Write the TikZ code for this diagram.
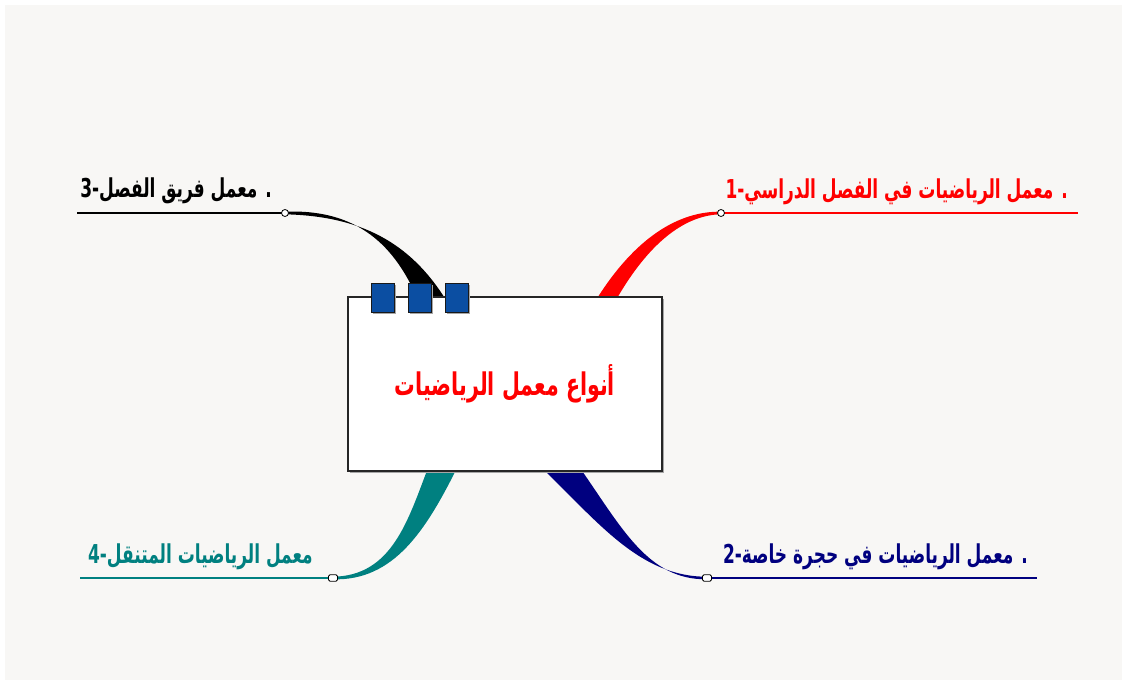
\documentclass[tikz,border=0pt]{standalone}
\usepackage{fontspec}
\usepackage{graphicx}
\usetikzlibrary{calc,shadows}
\TeXXeTstate=1
\newfontfamily\arabicfont[Script=Arabic]{DejaVu Sans}
\definecolor{bgc}{HTML}{F8F7F5}
\definecolor{cred}{HTML}{FF0000}
\definecolor{cnavy}{HTML}{00007F}
\definecolor{cteal}{HTML}{008080}
\definecolor{cblue}{HTML}{0B4EA2}
\newcommand{\lbltxt}[1]{\scalebox{0.85}[1.3]{\arabicfont\bfseries\fontsize{20}{22}\selectfont\beginR #1\endR}}
\begin{document}
\begin{tikzpicture}[x=1pt,y=-1pt,
  knot/.style={circle,draw=black,fill=white,line width=0.8pt,inner sep=0pt,minimum size=7pt},
  knotr/.style={rounded corners=1.5pt,draw=black,fill=white,line width=0.8pt,inner sep=0pt,minimum width=9pt,minimum height=6.5pt},
  lab/.style={inner sep=0pt,anchor=base east},
  uline/.style={line width=1.6pt},
  mainbox/.style={draw=black!85,fill=white,line width=1.2pt,minimum width=314pt,minimum height=174pt,inner sep=0pt,
    drop shadow={shadow xshift=1.5pt,shadow yshift=-1.5pt,fill=black!35,opacity=1}},
  tab/.style={draw=black!90,fill=cblue,line width=1pt,minimum width=23pt,minimum height=29pt,inner sep=0pt,
    drop shadow={shadow xshift=1.5pt,shadow yshift=-1.5pt,fill=black!35,opacity=1}}
]
\useasboundingbox (0,0) rectangle (1122,682);
\fill[bgc] (5,5) rectangle (1122,680);

% anchor points
\coordinate (p1) at (721,213);
\coordinate (p2) at (707,578);
\coordinate (p3) at (285,213);
\coordinate (p4) at (333,578);
\coordinate (b1) at (606,300);
\coordinate (b2) at (561,468);
\coordinate (b3) at (432,300);
\coordinate (b4) at (442,468);

% tapered connectors
\fill[cred] ($(p1)+(0,-1.3)$) .. controls (680,211) and (636,236) .. ($(b1)+(-10,0)$)
  -- ($(b1)+(10,0)$) .. controls (648,244) and (684,215) .. ($(p1)+(0,1.3)$) -- cycle;
\fill[cnavy] ($(p2)+(0,-1.3)$) .. controls (640,577) and (598,522) .. ($(b2)+(-19,0)$)
  -- ($(b2)+(19,0)$) .. controls (622,528) and (648,580) .. ($(p2)+(0,1.3)$) -- cycle;
\fill[black] ($(p3)+(0,-1.3)$) .. controls (350,209) and (392,238) .. ($(b3)+(-14,0)$)
  -- ($(b3)+(14,0)$) .. controls (410,242) and (360,216) .. ($(p3)+(0,1.3)$) -- cycle;
\fill[cteal] ($(p4)+(0,-1.3)$) .. controls (392,576) and (408,520) .. ($(b4)+(-14,0)$)
  -- ($(b4)+(15,0)$) .. controls (426,530) and (394,581) .. ($(p4)+(0,1.3)$) -- cycle;

% underlines
\coordinate (e1) at (1078,213);
\coordinate (e2) at (1037,578);
\coordinate (e3) at (77,213);
\coordinate (e4) at (80,578);
\draw[uline,cred] (p1) -- (e1);
\draw[uline,cnavy] (p2) -- (e2);
\draw[uline,black] (p3) -- (e3);
\draw[uline,cteal] (p4) -- (e4);

% labels
\node[lab,text=cred] (t1) at (1068,198) {\lbltxt{. معمل الرياضيات في الفصل الدراسي-1}};
\node[lab,text=cnavy] (t2) at (1028,563) {\lbltxt{. معمل الرياضيات في حجرة خاصة-2}};
\node[lab,text=black] (t3) at (272,197) {\lbltxt{. معمل فريق الفصل-3}};
\node[lab,text=cteal] (t4) at (313,563) {\lbltxt{معمل الرياضيات المتنقل-4}};

% central box
\node[mainbox] (c) at (505,384) {\color{cred}\scalebox{0.86}[1.3]{\arabicfont\bfseries\fontsize{24}{28}\selectfont\beginR أنواع معمل الرياضيات\endR}};
\node[tab] (s1) at (382.5,298) {};
\node[tab] (s2) at (419.5,298) {};
\node[tab] (s3) at (456.5,298) {};

% knots
\node[knot] (k1) at (p1) {};
\node[knotr] (k2) at (p2) {};
\node[knot] (k3) at (p3) {};
\node[knotr] (k4) at (p4) {};
\end{tikzpicture}
\end{document}
